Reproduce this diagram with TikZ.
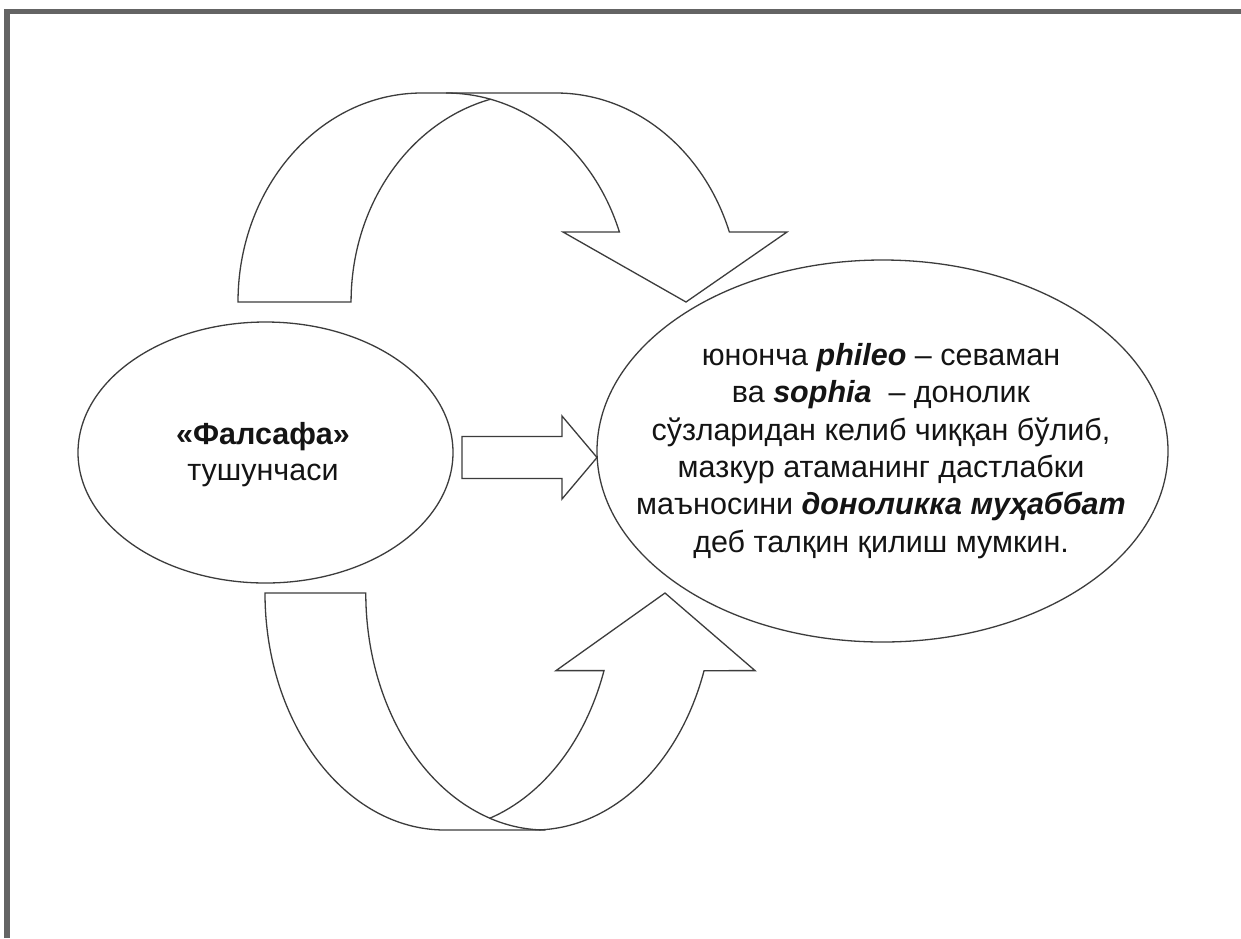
\documentclass[tikz,border=0pt]{standalone}
\usepackage{fontspec}
\setmainfont{Liberation Sans}
\usetikzlibrary{shapes.geometric,calc}
\definecolor{framegray}{RGB}{100,100,100}
\definecolor{linegray}{RGB}{60,60,60}
\definecolor{textgray}{RGB}{20,20,20}
\begin{document}
\begin{tikzpicture}[x=1pt,y=-1pt,
  frameline/.style={draw=framegray,line width=5.5pt,line join=miter},
  shapeline/.style={draw=linegray,line width=1.3pt,fill=white,line join=miter},
  foldline/.style={draw=linegray,line width=1.3pt},
  ovalbox/.style={ellipse,draw=linegray,line width=1.3pt,fill=white,inner sep=0pt},
  txt/.style={align=center,inner sep=0pt,text=textgray}]
\useasboundingbox (0,0) rectangle (1241,938);
\fill[white] (0,0) rectangle (1241,938);
% frame
\draw[frameline] (7,938) -- (7,11.5) -- (1241,11.5);

% ellipses
\node[ovalbox,minimum width=375pt,minimum height=261pt] (fals) at (265.5,452.5) {};
\node[ovalbox,minimum width=571pt,minimum height=382pt] (defn) at (882.5,451) {};

% top curved arrow
\draw[shapeline] (238,302) arc[start angle=180,end angle=90,x radius=184pt,y radius=209pt]
  -- (556,93) arc[start angle=90,end angle=19.57,x radius=184pt,y radius=209pt]
  -- (787,232) -- (686,302) -- (563,232) -- (619.4,232)
  arc[start angle=19.57,end angle=76,x radius=184pt,y radius=209pt]
  arc[start angle=104,end angle=180,x radius=184pt,y radius=209pt]
  -- cycle;
\coordinate (tP) at ($(446,302)+(76:184pt and 209pt)$);
\draw[foldline] (tP) arc[start angle=76,end angle=90,x radius=184pt,y radius=209pt];

% bottom curved arrow
\draw[shapeline] (265,593) arc[start angle=180,end angle=270,x radius=180pt,y radius=237pt]
  -- (534,830) arc[start angle=-90,end angle=-19.13,x radius=180pt,y radius=237pt]
  -- (755,670.6) -- (665,593) -- (556,670.6) -- (604,670.6)
  arc[start angle=-19.13,end angle=-71.9,x radius=180pt,y radius=237pt]
  arc[start angle=-108.1,end angle=-180,x radius=180pt,y radius=237pt]
  -- cycle;
\coordinate (bP) at ($(433.9,593)+(-71.9:180pt and 237pt)$);
\draw[foldline] (bP) arc[start angle=-108.1,end angle=-90,x radius=180pt,y radius=237pt];

% middle block arrow
\draw[shapeline] (462,436.5) -- (562,436.5) -- (562,416) -- (597,457.5)
  -- (562,499) -- (562,478.5) -- (462,478.5) -- cycle;

% texts
\node[txt,font=\fontsize{30.5}{36}\selectfont] (falstext) at (263,455)
  {\textbf{«Фалсафа»}\\тушунчаси};
\node[txt,font=\fontsize{30.5}{37.4}\selectfont] (defntext) at (881,451)
  {юнонча \textbf{\textit{phileo}} – севаман\\
   ва \textbf{\textit{sophia}}\ \ – донолик\\
   сўзларидан келиб чиққан бўлиб,\\
   мазкур атаманинг дастлабки\\
   маъносини \textbf{\textit{доноликка муҳаббат}}\\
   деб талқин қилиш мумкин.};
\end{tikzpicture}
\end{document}
